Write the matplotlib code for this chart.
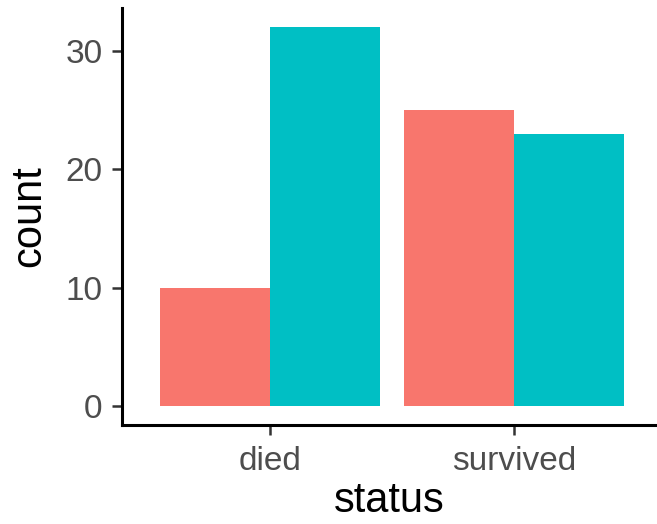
import numpy as np
import matplotlib
matplotlib.use("Agg")
import matplotlib.pyplot as plt

plt.rcParams['font.family'] = ['Liberation Sans', 'DejaVu Sans']

# data
status = ['died', 'survived']
group_a = [10, 25]   # red fill
group_b = [32, 23]   # teal fill

COL_A = '#F8766D'
COL_B = '#00BFC4'

fig = plt.figure(figsize=(6.57, 5.24), dpi=100)
ax = fig.add_axes([122 / 657, 99 / 524, (657 - 122) / 657, (425 - 8) / 524])

x = np.arange(1, len(status) + 1)
w = 0.45
ax.bar(x - w / 2, group_a, width=w, color=COL_A, linewidth=0)
ax.bar(x + w / 2, group_b, width=w, color=COL_B, linewidth=0)

ax.set_xlim(0.393, 2.586)
ax.set_ylim(-1.6, 33.6)
ax.set_xticks(x)
ax.set_xticklabels(status)
ax.set_yticks([0, 10, 20, 30])

for side in ['top', 'right']:
    ax.spines[side].set_visible(False)
for side in ['left', 'bottom']:
    ax.spines[side].set_linewidth(2.2)
    ax.spines[side].set_color('black')

ax.tick_params(axis='both', length=7, width=1.8, color='#333333',
               labelsize=24, labelcolor='#4D4D4D')
ax.tick_params(axis='x', pad=8)
ax.tick_params(axis='y', pad=7)

ax.set_xlabel('status', fontsize=30, labelpad=3)
ax.set_ylabel('count', fontsize=30, labelpad=12)

fig.savefig('out.png', dpi=100)
